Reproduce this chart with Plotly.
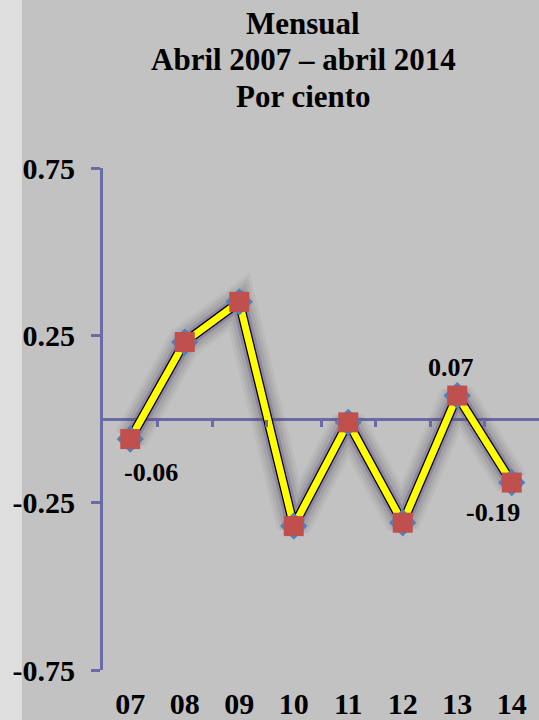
import plotly.graph_objects as go

categories = ["07", "08", "09", "10", "11", "12", "13", "14"]
values = [-0.06, 0.23, 0.35, -0.32, -0.01, -0.31, 0.07, -0.19]
ytick_vals = [-0.75, -0.25, 0.25, 0.75]
ytick_text = ["-0.75", "-0.25", "0.25", "0.75"]
labeled_idx = [0, 6, 7]
label_shift = {0: (21, -33), 6: (-6, 28), 7: (-19, -30)}

title_lines = ["Mensual", "Abril 2007 – abril 2014", "Por ciento"]
title_centers_px = [23, 60, 97]

FONT = "Liberation Serif"
AXIS = "#6a6aa6"
W, H = 539, 720
ML, MR, MT, MB = 103, 0, 168, 50

xs = list(range(len(categories)))
boundaries = [i + 0.5 for i in range(len(categories) - 1)]

fig = go.Figure()

# glow layers
for w, c in [(34, "rgba(60,60,60,0.06)"), (28, "rgba(60,60,70,0.08)"),
             (22, "rgba(70,60,90,0.11)"), (15, "rgba(110,80,170,0.35)")]:
    fig.add_trace(go.Scatter(x=xs, y=values, mode="lines", line=dict(color=c, width=w),
                             hoverinfo="skip", showlegend=False))
# outline + yellow core
fig.add_trace(go.Scatter(x=xs, y=values, mode="lines", line=dict(color="black", width=9.5),
                         hoverinfo="skip", showlegend=False))
fig.add_trace(go.Scatter(x=xs, y=values, mode="lines", line=dict(color="#ffff00", width=7),
                         hoverinfo="skip", showlegend=False))
# markers
fig.add_trace(go.Scatter(x=xs, y=values, mode="markers",
                         marker=dict(symbol="diamond", size=21, color="#4f81bd", line=dict(width=0)),
                         hoverinfo="skip", showlegend=False))
fig.add_trace(go.Scatter(x=xs, y=values, mode="markers",
                         marker=dict(symbol="square", size=20, color="#c0504d", line=dict(width=0)),
                         showlegend=False))
# invisible trace to carry the zero-line tick axis
fig.add_trace(go.Scatter(x=xs, y=values, mode="markers", marker=dict(opacity=0),
                         xaxis="x2", hoverinfo="skip", showlegend=False))

for i in labeled_idx:
    dx, dy = label_shift[i]
    fig.add_annotation(x=xs[i], y=values[i], text=f"{values[i]:.2f}", showarrow=False,
                       xshift=dx, yshift=dy,
                       font=dict(family=FONT, size=26, color="black", weight="bold"))

ph = H - MT - MB
for line, cy in zip(title_lines, title_centers_px):
    fig.add_annotation(xref="paper", yref="paper", x=(303 - ML) / (W - ML - MR),
                       y=(H - MB - cy) / ph, xanchor="center", yanchor="middle",
                       text=line, showarrow=False,
                       font=dict(family=FONT, size=31, color="black", weight="bold"))

pw = W - ML - MR
fig.add_shape(type="rect", xref="paper", yref="paper",
              x0=(0 - ML) / pw, x1=(22 - ML) / pw, y0=-1, y1=2,
              fillcolor="#dedede", line=dict(width=0), layer="below")

fig.update_layout(
    width=W, height=H,
    margin=dict(l=ML, r=MR, t=MT, b=MB, autoexpand=False),
    paper_bgcolor="#c2c2c2", plot_bgcolor="rgba(0,0,0,0)",
    xaxis=dict(range=[-0.5, len(categories) - 0.5], tickvals=xs, ticktext=categories,
               showgrid=False, zeroline=False, showline=False, ticks="",
               ticklabelstandoff=13, automargin=False,
               tickfont=dict(family=FONT, size=30, color="black", weight="bold")),
    xaxis2=dict(overlaying="x", matches="x", anchor="free", position=0.5,
                tickvals=boundaries, ticks="outside", ticklen=7, tickwidth=3, tickcolor=AXIS,
                showticklabels=False, showgrid=False, zeroline=False, showline=False,
                automargin=False),
    yaxis=dict(range=[-0.75, 0.75], tickvals=ytick_vals, ticktext=ytick_text,
               ticks="outside", ticklen=9, tickwidth=3, tickcolor=AXIS,
               showline=True, linecolor=AXIS, linewidth=3,
               zeroline=True, zerolinecolor=AXIS, zerolinewidth=3,
               showgrid=False, ticklabelstandoff=10, automargin=False,
               tickfont=dict(family=FONT, size=30, color="black", weight="bold")),
)

fig.write_html("out.html", config={"displayModeBar": False},
               post_script="document.body.style.margin='0';document.body.style.overflow='hidden';")
